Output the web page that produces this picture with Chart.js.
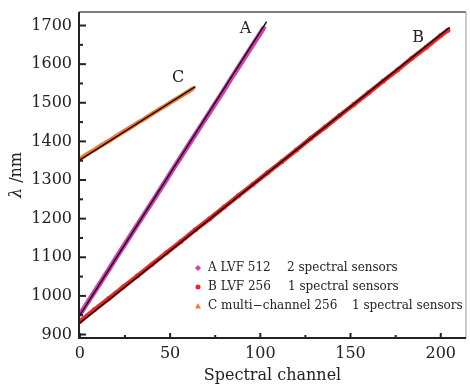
<!DOCTYPE html>
<html>
<head>
<meta charset="utf-8">
<script src="https://cdn.jsdelivr.net/npm/chart.js@4.4.0/dist/chart.umd.min.js"></script>
<style>
  body { margin: 0; background: #fff; }
</style>
</head>
<body>
<canvas id="lvfChart" width="470" height="385"></canvas>
<script>
const channelsA = [0, 4, 8, 12, 16, 20, 24, 28, 32, 36, 40, 44, 48, 52, 56, 60, 64, 68, 72, 76, 80, 84, 88, 92, 96, 100, 102];
const lambdaA = [952, 981, 1010, 1039, 1068, 1098, 1127, 1156, 1185, 1214, 1243, 1272, 1301, 1331, 1360, 1389, 1418, 1447, 1476, 1505, 1534, 1564, 1593, 1622, 1651, 1680, 1695];

const channelsB = [0, 8, 16, 24, 32, 40, 48, 56, 64, 72, 80, 88, 96, 104, 112, 120, 128, 136, 144, 152, 160, 168, 176, 184, 192, 200, 204];
const lambdaB = [934, 964, 993, 1023, 1052, 1082, 1112, 1141, 1171, 1200, 1230, 1260, 1289, 1319, 1348, 1378, 1408, 1437, 1467, 1496, 1526, 1556, 1585, 1615, 1644, 1674, 1688];

const channelsC = [0, 4, 8, 12, 16, 20, 24, 28, 32, 36, 40, 44, 48, 52, 56, 60, 63];
const lambdaC = [1355, 1367, 1378, 1390, 1401, 1413, 1425, 1436, 1448, 1459, 1471, 1483, 1494, 1506, 1517, 1529, 1538];

// fitted lines (end points)
const fitAx = [0, 103.5];
const fitAy = [950, 1710];
const fitBx = [0, 205];
const fitBy = [930, 1695];
const fitCx = [0, 64];
const fitCy = [1352, 1542];

// axis ticks
const xTicks = [0, 50, 100, 150, 200];
const xMinor = [25, 75, 125, 175];
const yTicks = [900, 1000, 1100, 1200, 1300, 1400, 1500, 1600, 1700];
const yMinor = [950, 1050, 1150, 1250, 1350, 1450, 1550, 1650];

// curve labels
const curveNames = ['A', 'B', 'C'];
const curveLabelX = [91.8, 187.4, 54.4];
const curveLabelY = [1692, 1669, 1565];

// legend
const legendNames = ['A LVF 512', 'B LVF 256', 'C multi\u2212channel 256'];
const legendNotes = ['2 spectral sensors', '1 spectral sensors', '1 spectral sensors'];

const colA = '#d63db2';
const colB = '#f02525';
const colC = '#f57a35';
const serif = "'DejaVu Serif', serif";

function toPts(xs, ys) {
    return xs.map(function (x, i) { return { x: x, y: ys[i] }; });
}

function noEdgePadding(s) {
    s.paddingTop = 0;
    s.paddingBottom = 0;
    s.paddingLeft = 0;
    s.paddingRight = 0;
}

const chartDecor = {
    id: 'chartDecor',
    afterDraw: function (chart) {
        const ctx = chart.ctx;
        const a = chart.chartArea;
        const xs = chart.scales.x;
        const ys = chart.scales.y;
        ctx.save();

        // frame
        ctx.strokeStyle = '#555';
        ctx.lineWidth = 1.5;
        ctx.beginPath();
        ctx.moveTo(a.left, a.top);
        ctx.lineTo(a.right, a.top);
        ctx.stroke();
        ctx.strokeStyle = '#999';
        ctx.lineWidth = 1;
        ctx.beginPath();
        ctx.moveTo(a.right, a.top);
        ctx.lineTo(a.right, a.bottom);
        ctx.stroke();
        ctx.strokeStyle = '#222';
        ctx.lineWidth = 2;
        ctx.beginPath();
        ctx.moveTo(a.left, a.top);
        ctx.lineTo(a.left, a.bottom);
        ctx.lineTo(a.right, a.bottom);
        ctx.stroke();

        // inward ticks
        ctx.lineWidth = 2;
        yTicks.forEach(function (v) {
            const py = ys.getPixelForValue(v);
            ctx.beginPath(); ctx.moveTo(a.left, py); ctx.lineTo(a.left + 7, py); ctx.stroke();
        });
        yMinor.forEach(function (v) {
            const py = ys.getPixelForValue(v);
            ctx.beginPath(); ctx.moveTo(a.left, py); ctx.lineTo(a.left + 4, py); ctx.stroke();
        });
        xTicks.forEach(function (v) {
            const px = xs.getPixelForValue(v);
            ctx.beginPath(); ctx.moveTo(px, a.bottom); ctx.lineTo(px, a.bottom - 5); ctx.stroke();
        });
        xMinor.forEach(function (v) {
            const px = xs.getPixelForValue(v);
            ctx.beginPath(); ctx.moveTo(px, a.bottom); ctx.lineTo(px, a.bottom - 3); ctx.stroke();
        });

        // y title: italic lambda + " /nm"
        ctx.fillStyle = '#222';
        ctx.translate(17, (a.top + a.bottom) / 2);
        ctx.rotate(-Math.PI / 2);
        ctx.textBaseline = 'middle';
        ctx.font = 'italic 16px ' + serif;
        const w1 = ctx.measureText('\u03bb').width;
        ctx.font = '16px ' + serif;
        const w2 = ctx.measureText(' /nm').width;
        ctx.textAlign = 'left';
        ctx.font = 'italic 16px ' + serif;
        ctx.fillText('\u03bb', -(w1 + w2) / 2, 0);
        ctx.font = '16px ' + serif;
        ctx.fillText(' /nm', -(w1 + w2) / 2 + w1, 0);
        ctx.setTransform(1, 0, 0, 1, 0, 0);

        // curve letters
        ctx.font = '16px ' + serif;
        ctx.textAlign = 'center';
        ctx.textBaseline = 'middle';
        curveNames.forEach(function (n, i) {
            ctx.fillText(n, xs.getPixelForValue(curveLabelX[i]), ys.getPixelForValue(curveLabelY[i]));
        });

        // legend inside plot
        const lx = a.right - 268;
        const ly = a.bottom - 70;
        const cols = [colA, colB, colC];
        const noteX = [79, 80, 144];
        ctx.textAlign = 'left';
        ctx.font = '12px ' + serif;
        legendNames.forEach(function (n, i) {
            const y = ly + i * 19;
            const mx = lx;
            ctx.fillStyle = cols[i];
            ctx.beginPath();
            if (i === 0) {
                ctx.moveTo(mx, y - 3); ctx.lineTo(mx + 3, y); ctx.lineTo(mx, y + 3); ctx.lineTo(mx - 3, y);
            } else if (i === 1) {
                ctx.arc(mx, y, 2.5, 0, Math.PI * 2);
            } else {
                ctx.moveTo(mx, y - 3); ctx.lineTo(mx + 3, y + 2.5); ctx.lineTo(mx - 3, y + 2.5);
            }
            ctx.closePath();
            ctx.fill();
            ctx.fillStyle = '#222';
            ctx.fillText(n, lx + 10, y);
            ctx.fillText(legendNotes[i], lx + 10 + noteX[i], y);
        });
        ctx.restore();
    }
};

new Chart(document.getElementById('lvfChart'), {
    type: 'scatter',
    data: {
        datasets: [
            { data: toPts(fitAx, fitAy), showLine: true, borderColor: '#111', borderWidth: 1.5, pointRadius: 0 },
            { data: toPts(fitBx, fitBy), showLine: true, borderColor: '#111', borderWidth: 1.5, pointRadius: 0 },
            { data: toPts(fitCx, fitCy), showLine: true, borderColor: '#111', borderWidth: 1.5, pointRadius: 0 },
            {
                data: toPts(channelsA, lambdaA), showLine: true, borderColor: colA, borderWidth: 5,
                pointStyle: 'rectRot', pointRadius: 2.5, backgroundColor: colA, pointBorderWidth: 0
            },
            {
                data: toPts(channelsB, lambdaB), showLine: true, borderColor: colB, borderWidth: 4.5,
                pointStyle: 'circle', pointRadius: 2.5, backgroundColor: colB, pointBorderWidth: 0
            },
            {
                data: toPts(channelsC, lambdaC), showLine: true, borderColor: colC, borderWidth: 4.5,
                pointStyle: 'triangle', pointRadius: 2.5, backgroundColor: colC, pointBorderWidth: 0
            }
        ]
    },
    options: {
        responsive: false,
        animation: false,
        layout: { padding: { top: 12, right: 2, left: 0, bottom: 0 } },
        plugins: { legend: { display: false }, tooltip: { enabled: false } },
        scales: {
            x: {
                type: 'linear',
                min: -0.5,
                max: 214,
                grid: { display: false, drawTicks: false },
                border: { display: false },
                afterBuildTicks: function (s) { s.ticks = xTicks.map(function (v) { return { value: v }; }); },
                afterFit: function (s) { s.height = 47; noEdgePadding(s); },
                ticks: { font: { family: serif, size: 16 }, color: '#222', padding: 6, maxRotation: 0 },
                title: { display: true, text: 'Spectral channel', color: '#222', font: { family: serif, size: 16 }, padding: { top: 0, bottom: 0 } }
            },
            y: {
                min: 891,
                max: 1735,
                grid: { display: false, drawTicks: false },
                border: { display: false },
                afterBuildTicks: function (s) { s.ticks = yTicks.map(function (v) { return { value: v }; }); },
                afterFit: function (s) { s.width = 79; noEdgePadding(s); },
                ticks: {
                    font: { family: serif, size: 16 }, color: '#222', padding: 7,
                    callback: function (v) { return String(v); }
                }
            }
        }
    },
    plugins: [chartDecor]
});
</script>
</body>
</html>
